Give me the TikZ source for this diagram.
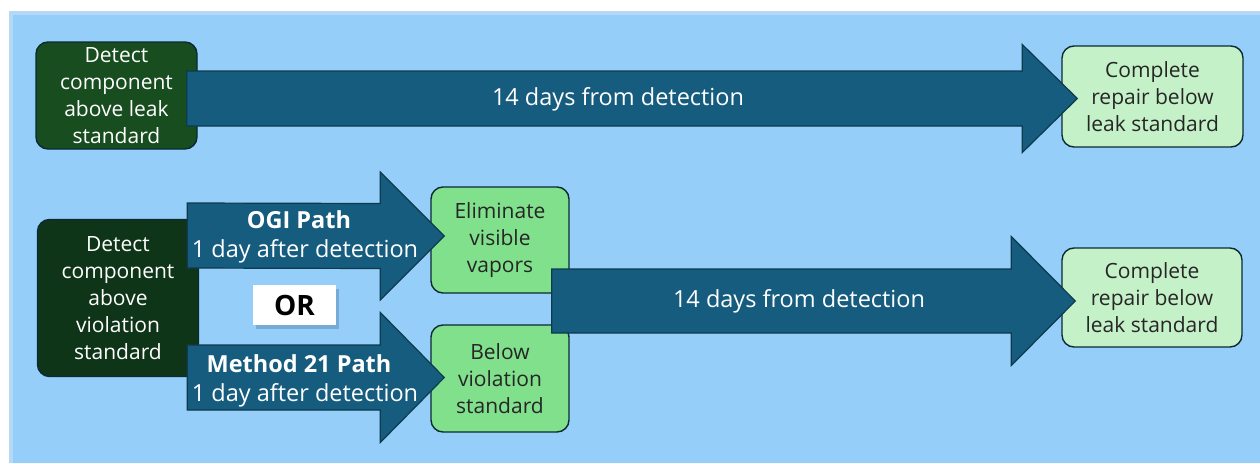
\documentclass[tikz,border=0pt]{standalone}
\usepackage{fontspec}
\setmainfont{Open Sans}
\usetikzlibrary{calc,shadows}
\definecolor{panel}{HTML}{95CEF9}
\definecolor{paneledge}{HTML}{B5D8F6}
\definecolor{arrfill}{HTML}{165C7E}
\definecolor{arrline}{HTML}{0E3A4E}
\definecolor{dkgreenA}{HTML}{184D1F}
\definecolor{dkgreenB}{HTML}{0F3519}
\definecolor{ltgreen}{HTML}{C5F1C8}
\definecolor{mdgreen}{HTML}{80E08C}
\definecolor{boxline}{HTML}{0B2A33}
\definecolor{orshadow}{HTML}{5E8FB8}
\tikzset{
  boxbase/.style={draw=boxline, line width=1.4pt, rounded corners=12pt, align=center, inner sep=0pt, font=\fontsize{21}{27}\selectfont},
  darkbox/.style={boxbase, text=white},
  lightbox/.style={boxbase, fill=ltgreen, text=black!85},
  midbox/.style={boxbase, fill=mdgreen, text=black!85},
  blockarr/.style={fill=arrfill, draw=arrline, line width=1.2pt, line join=miter},
  arrlabel/.style={text=white, align=center, inner sep=0pt, font=\fontsize{23.5}{31}\selectfont},
}
% start, tip, half body, half head, head length
\newcommand\blockarrow[5]{%
  \path[blockarr] ($(#1)+(0,-#3)$) -- ($(#2)+(-#5,-#3)$) -- ($(#2)+(-#5,-#4)$) -- (#2)
    -- ($(#2)+(-#5,#4)$) -- ($(#2)+(-#5,#3)$) -- ($(#1)+(0,#3)$) -- cycle;}
\begin{document}
\begin{tikzpicture}[x=1pt,y=-1pt]
\useasboundingbox (0,0) rectangle (1260,463);
\fill[white] (0,0) rectangle (1260,463);
\fill[paneledge] (9,11) rectangle (1260,463);
\fill[panel] (13,15) rectangle (1260,463);

% boxes
\node[darkbox, fill=dkgreenA, minimum width=161pt, minimum height=107pt] (d1) at (116.5,95.5)
  {Detect\\component\\above leak\\standard};
\node[lightbox, minimum width=181pt, minimum height=101pt] (c1) at (1152.5,96.5)
  {Complete\\repair below\\leak standard};
\node[darkbox, fill=dkgreenB, minimum width=161pt, minimum height=157pt] (d2) at (118,298)
  {Detect\\component\\above\\violation\\standard};
\node[midbox, minimum width=138pt, minimum height=106pt] (el) at (500,240)
  {Eliminate\\visible\\vapors};
\node[midbox, minimum width=138pt, minimum height=107pt] (bv) at (500,378.5)
  {Below\\violation\\standard};
\node[lightbox, minimum width=180pt, minimum height=99pt] (c2) at (1152,297.5)
  {Complete\\repair below\\leak standard};

% arrows
\coordinate (a1s) at (d1.east |- 0,98.5);
\coordinate (a1s) at ($(a1s)+(-11,0)$);
\coordinate (a1t) at ($(c1.west |- 0,98.5)+(16,0)$);
\blockarrow{a1s}{a1t}{27.5}{54}{55}
\node[arrlabel] (l1) at (618,99) {14 days from detection};

\coordinate (a2s) at ($(d2.east |- 0,235.5)+(-12,0)$);
\coordinate (a2t) at ($(el.west |- 0,236)+(14,0)$);
\blockarrow{a2s}{a2t}{32.5}{64}{64}
\node[arrlabel] (l2a) at (299,220) {\bfseries OGI Path};
\node[arrlabel] (l2b) at (305,251) {1 day after detection};

\coordinate (a3s) at ($(d2.east |- 0,377.5)+(-12,0)$);
\coordinate (a3t) at ($(bv.west |- 0,377.5)+(14,0)$);
\blockarrow{a3s}{a3t}{32.5}{65}{64}
\node[arrlabel] (l3a) at (299,364) {\bfseries Method 21 Path};
\node[arrlabel] (l3b) at (305,395) {1 day after detection};

\coordinate (a4s) at ($(el.east |- 0,301)+(-18,0)$);
\coordinate (a4t) at ($(c2.west |- 0,301)+(14,0)$);
\blockarrow{a4s}{a4t}{32}{64.5}{64}
\node[arrlabel] (l4) at (799,301) {14 days from detection};

% OR
\node[fill=white, minimum width=83pt, minimum height=40pt, inner sep=0pt,
  drop shadow={shadow xshift=2.5pt, shadow yshift=-3.5pt, fill=orshadow, opacity=0.55},
  font=\fontsize{28}{30}\selectfont\bfseries] (or) at (294.5,305) {OR};
\end{tikzpicture}
\end{document}
